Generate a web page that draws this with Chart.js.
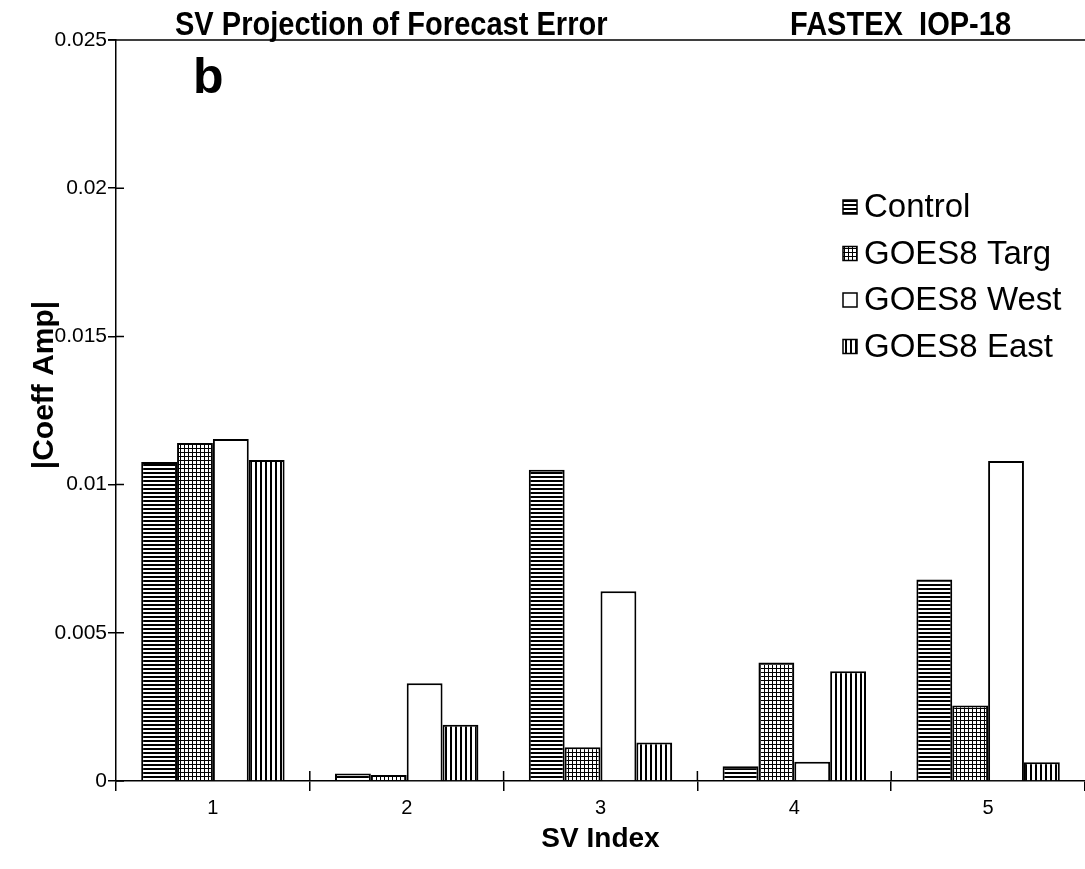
<!DOCTYPE html>
<html>
<head>
<meta charset="utf-8">
<title>SV Projection of Forecast Error</title>
<script src="https://cdn.jsdelivr.net/npm/chart.js@4/dist/chart.umd.min.js"></script>
<style>
    html, body { margin: 0; padding: 0; background: #fff; }
    #wrap { width: 1085px; height: 869px; position: relative; }
</style>
</head>
<body>
<div id="wrap"><canvas id="myChart" width="1085" height="869"></canvas></div>
<script>
// Dados
const categories = ['1', '2', '3', '4', '5'];
const seriesNames = ['Control', 'GOES8 Targ', 'GOES8 West', 'GOES8 East'];
const control = [0.01076, 0.00025, 0.0105, 0.0005, 0.0068];
const goesTarg = [0.0114, 0.0002, 0.00114, 0.0040, 0.00255];
const goesWest = [0.01154, 0.0033, 0.0064, 0.00065, 0.0108];
const goesEast = [0.01083, 0.0019, 0.0013, 0.0037, 0.00063];
const yTickLabels = ['0', '0.005', '0.01', '0.015', '0.02', '0.025'];

const FONT = '"Liberation Sans", Arial, sans-serif';

// Hachuras em preto e branco
function makePattern(kind) {
    const c = document.createElement('canvas');
    const size = kind === 'v' ? 5 : 4;
    c.width = size;
    c.height = size;
    const g = c.getContext('2d');
    g.fillStyle = '#fff';
    g.fillRect(0, 0, size, size);
    g.fillStyle = '#000';
    if (kind === 'h') g.fillRect(0, 0, size, 2);
    if (kind === 'grid') { g.fillRect(0, 0, size, 1); g.fillRect(0, 0, 1, size); }
    if (kind === 'v') g.fillRect(0, 0, 2, size);
    return g.createPattern(c, 'repeat');
}

// texto condensado (a fonte estreita nao esta instalada)
function narrowText(ctx, text, x, y, sx) {
    ctx.save();
    ctx.translate(x, y);
    ctx.scale(sx, 1);
    ctx.fillText(text, 0, 0);
    ctx.restore();
}

document.addEventListener('DOMContentLoaded', function() {
    const fills = [makePattern('h'), makePattern('grid'), '#ffffff', makePattern('v')];
    const values = [control, goesTarg, goesWest, goesEast];

    // Titulos, letra "b", linha superior, marcas internas e legenda
    const decor = {
        id: 'decor',
        afterDraw(chart) {
            const ctx = chart.ctx;
            const area = chart.chartArea;
            const x = chart.scales.x;
            const y = chart.scales.y;
            ctx.save();
            ctx.strokeStyle = '#000';
            ctx.lineWidth = 1.5;
            ctx.beginPath();
            ctx.moveTo(area.left - 8, area.top);
            ctx.lineTo(area.right, area.top);
            // marcas para dentro da area
            y.ticks.forEach(function(t) {
                const py = y.getPixelForValue(t.value);
                ctx.moveTo(area.left, py);
                ctx.lineTo(area.left + 8, py);
            });
            for (let i = 1; i < categories.length; i++) {
                const px = (x.getPixelForValue(i - 1) + x.getPixelForValue(i)) / 2;
                ctx.moveTo(px, area.bottom);
                ctx.lineTo(px, area.bottom - 10);
            }
            ctx.stroke();

            ctx.fillStyle = '#000';
            ctx.textBaseline = 'alphabetic';
            ctx.textAlign = 'left';
            ctx.font = 'bold 33px ' + FONT;
            narrowText(ctx, 'SV Projection of Forecast Error', 175, 35, 0.88);
            narrowText(ctx, 'FASTEX  IOP-18', 790, 35, 0.88);
            ctx.font = 'bold 50px ' + FONT;
            ctx.fillText('b', 193, 93);

            // titulo do eixo y
            ctx.save();
            ctx.translate(45, 385);
            ctx.rotate(-Math.PI / 2);
            ctx.textAlign = 'center';
            ctx.textBaseline = 'middle';
            ctx.font = 'bold 30px ' + FONT;
            ctx.fillText('|Coeff Amp|', 0, 0);
            ctx.restore();

            // legenda
            ctx.font = '33px ' + FONT;
            ctx.textBaseline = 'middle';
            chart.data.datasets.forEach(function(ds, i) {
                const cy = 207 + i * 46.5;
                ctx.fillStyle = ds.backgroundColor;
                ctx.fillRect(843, cy - 7, 14, 14);
                ctx.lineWidth = 1.5;
                ctx.strokeRect(843, cy - 7, 14, 14);
                ctx.fillStyle = '#000';
                ctx.fillText(ds.label, 864, cy + 1);
            });
            ctx.restore();
        }
    };

    const ctx = document.getElementById('myChart');
    new Chart(ctx, {
        type: 'bar',
        data: {
            labels: categories,
            datasets: seriesNames.map(function(name, i) {
                return {
                    label: name,
                    data: values[i],
                    backgroundColor: fills[i],
                    borderColor: '#000',
                    borderWidth: 2,
                    categoryPercentage: 0.74,
                    barPercentage: 1.0
                };
            })
        },
        options: {
            responsive: false,
            animation: false,
            layout: { padding: { top: 40, left: 0, right: 0, bottom: 0 } },
            plugins: {
                legend: { display: false },
                title: { display: false },
                tooltip: { enabled: false }
            },
            scales: {
                x: {
                    afterFit: function(s) { s.height = 88; },
                    grid: {
                        offset: true,
                        drawOnChartArea: false,
                        tickLength: 10,
                        tickColor: '#000',
                        lineWidth: 1.5
                    },
                    border: { color: '#000', width: 1.5 },
                    ticks: { color: '#000', font: { family: FONT, size: 20 }, padding: 5 },
                    title: {
                        display: true,
                        text: 'SV Index',
                        color: '#000',
                        font: { family: FONT, size: 28, weight: 'bold' },
                        padding: { top: 0, bottom: 13 }
                    }
                },
                y: {
                    min: 0,
                    max: 0.025,
                    afterFit: function(s) { s.width = 116; },
                    grid: {
                        drawOnChartArea: false,
                        tickLength: 8,
                        tickColor: '#000',
                        lineWidth: 1.5
                    },
                    border: { color: '#000', width: 1.5 },
                    ticks: {
                        stepSize: 0.005,
                        color: '#000',
                        padding: 1,
                        font: { family: FONT, size: 21 },
                        callback: function(v, i) { return yTickLabels[i]; }
                    },
                    title: { display: false }
                }
            }
        },
        plugins: [decor]
    });
});
</script>
</body>
</html>
